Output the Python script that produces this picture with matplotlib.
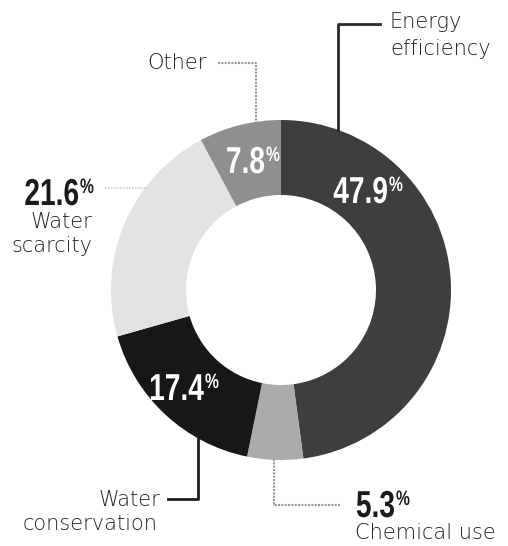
import matplotlib
matplotlib.use("Agg")
import matplotlib.pyplot as plt
from matplotlib.patheffects import AbstractPathEffect
from matplotlib.transforms import Affine2D, Bbox
from matplotlib.text import Text

categories = ["Energy efficiency", "Chemical use", "Water conservation", "Water scarcity", "Other"]
values = [47.9, 5.3, 17.4, 21.6, 7.8]
pct_labels = ["47.9", "5.3", "17.4", "21.6", "7.8"]
colors = ["#3e3e3e", "#ababab", "#171717", "#e3e3e3", "#8f8f8f"]

W, H = 508, 546
fig = plt.figure(figsize=(W / 100, H / 100), dpi=100)
ax = fig.add_axes([0, 0, 1, 1])

cx, cy, R = 281, 546 - 290, 170
ax.pie(values, colors=colors, startangle=90, counterclock=False,
       center=(cx, cy), radius=R, wedgeprops=dict(width=75, linewidth=0),
       frame=True)
ax.set_xlim(0, W)
ax.set_ylim(0, H)
ax.set_aspect("equal")
ax.axis("off")


class Squeeze(AbstractPathEffect):
    """Horizontally condense a text around its anchor point."""

    def __init__(self, text):
        super().__init__()
        self.text = text

    def draw_path(self, renderer, gc, tpath, affine, rgbFace=None):
        x0 = self.text.get_transform().transform(self.text.get_position())[0]
        sx = self.text.sx
        aff = affine + Affine2D().translate(-x0, 0).scale(sx, 1).translate(x0, 0)
        renderer.draw_path(gc, tpath, aff, rgbFace)


class CondensedText(Text):
    def __init__(self, *args, sx=0.75, **kwargs):
        super().__init__(*args, **kwargs)
        self.sx = sx
        self.set_path_effects([Squeeze(self)])

    def get_window_extent(self, renderer=None, dpi=None):
        bb = super().get_window_extent(renderer, dpi)
        x0 = self.get_transform().transform(self.get_position())[0]
        return Bbox([[x0 + (bb.x0 - x0) * self.sx, bb.y0],
                     [x0 + (bb.x1 - x0) * self.sx, bb.y1]])


def py(y):
    return H - y


NUM_FONT = ["Liberation Sans", "DejaVu Sans"]


def squeezed(x, y, s, size, color, ha):
    t = CondensedText(x, py(y), s, fontsize=size, fontfamily=NUM_FONT,
                      fontweight="bold", color=color, ha=ha, va="baseline",
                      transform=ax.transData)
    ax.add_artist(t)
    return t


def pct(xsplit, base, s, color):
    # number ends at xsplit, small % sign top-aligned after it
    squeezed(xsplit, base, s, 27, color, "right")
    squeezed(xsplit + 1, base - 12, "%", 15, color, "left")


# in-ring labels
pct(388, 203, pct_labels[0], "white")
pct(265, 173, pct_labels[4], "white")
pct(204, 400, pct_labels[2], "white")
# outside labels
pct(79, 205, pct_labels[3], "#1a1a1a")
pct(395, 517, pct_labels[1], "#1a1a1a")

tk = dict(fontsize=15, fontfamily="DejaVu Sans", fontweight="light",
          color="#222222", va="baseline")
ax.text(390, py(28), "Energy", ha="left", **tk)
ax.text(390, py(55), "efficiency", ha="left", **tk)
ax.text(207, py(69), "Other", ha="right", **tk)
ax.text(92, py(228), "Water", ha="right", **tk)
ax.text(92, py(252), "scarcity", ha="right", **tk)
ax.text(160, py(506), "Water", ha="right", **tk)
ax.text(158, py(530), "conservation", ha="right", **tk)
ax.text(355, py(539), "Chemical use", ha="left", **tk)

# leader lines
ax.plot([380, 338, 338], [py(24), py(24), py(130)], color="#2a2a2a", lw=2)
ax.plot([218, 256, 256], [py(63), py(63), py(122)], color="#9a9a9a", lw=1.5, ls=(0, (1, 0.6)))
ax.plot([105, 146], [py(188), py(188)], color="#cfcfcf", lw=1.2, ls=(0, (1, 0.8)))
ax.plot([168, 198, 198], [py(499), py(499), py(438)], color="#1e1e1e", lw=2)
ax.plot([274, 274, 340], [py(459), py(505), py(505)], color="#9a9a9a", lw=1.5, ls=(0, (1, 0.6)))

fig.savefig("out.png", dpi=100)
